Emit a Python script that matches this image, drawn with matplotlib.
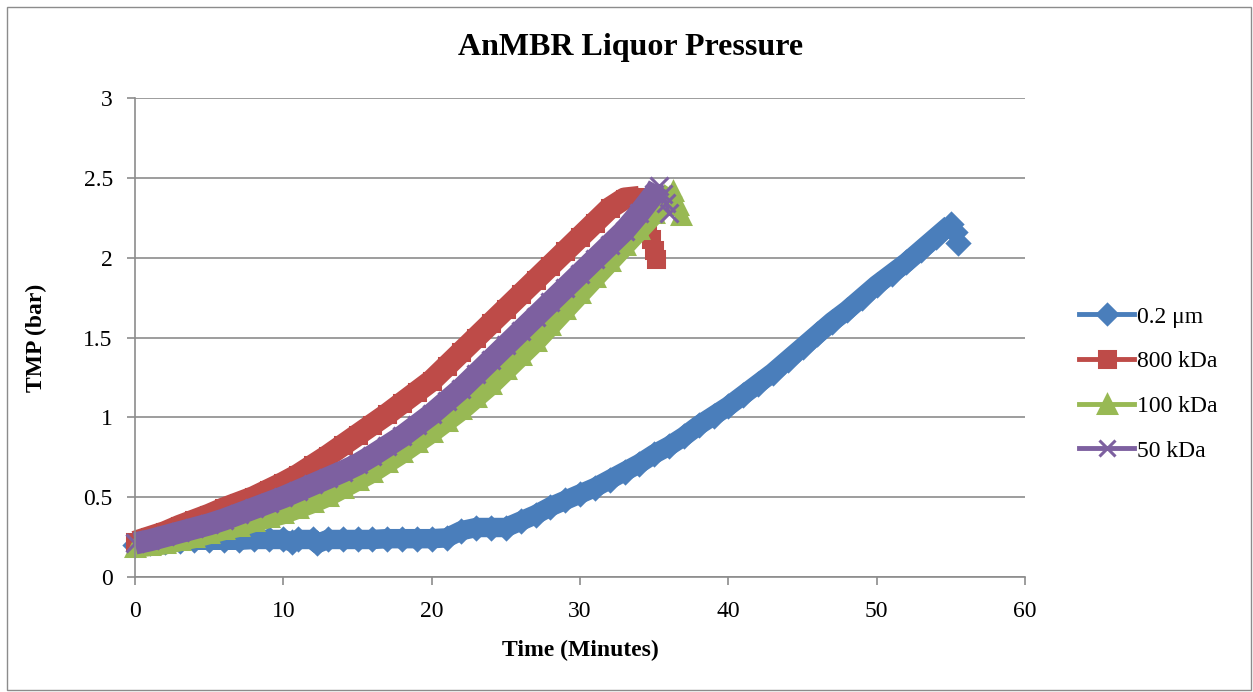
import numpy as np
import matplotlib
matplotlib.use("Agg")
import matplotlib.pyplot as plt
from matplotlib.lines import Line2D
from matplotlib.patches import Rectangle

# data (time in minutes, TMP in bar)
t_02um = [0, 1, 2, 3, 4, 5, 6, 7, 8, 9, 10, 10.6, 11, 12, 12.3, 13, 14, 15, 16, 17, 18, 19, 20, 21,
          22, 23, 24, 25, 26, 27, 28, 29, 30, 31, 32, 33, 34, 35, 36, 37, 38, 39, 40, 41, 42, 43,
          44, 45, 46, 47, 48, 49, 50, 51, 52, 53, 54, 55, 55.3, 55.5]
p_02um = [0.20, 0.21, 0.22, 0.225, 0.23, 0.23, 0.23, 0.23, 0.235, 0.235, 0.235, 0.22, 0.235, 0.235, 0.21,
          0.235, 0.235, 0.235, 0.235, 0.24, 0.24, 0.24, 0.24, 0.245, 0.29, 0.31, 0.31, 0.31, 0.35, 0.39,
          0.44, 0.48, 0.52, 0.56, 0.61, 0.66, 0.71, 0.77, 0.82, 0.88, 0.95, 1.01, 1.07, 1.14, 1.21, 1.28,
          1.36, 1.44, 1.52, 1.60, 1.67, 1.75, 1.83, 1.90, 1.97, 2.05, 2.13, 2.21, 2.16, 2.09]

t_800 = [0, 1, 2, 3, 4, 5, 6, 7, 8, 9, 10, 11, 12, 13, 14, 15, 16, 17, 18, 19, 20, 21, 22, 23, 24,
         25, 26, 27, 28, 29, 30, 31, 32, 33, 34, 34.5, 34.8, 35.0, 35.1]
p_800 = [0.22, 0.25, 0.28, 0.32, 0.355, 0.39, 0.43, 0.465, 0.50, 0.545, 0.59, 0.64, 0.70, 0.76, 0.825,
         0.89, 0.955, 1.02, 1.09, 1.16, 1.23, 1.32, 1.41, 1.50, 1.59, 1.68, 1.77, 1.86, 1.95, 2.04,
         2.13, 2.22, 2.31, 2.37, 2.38, 2.22, 2.12, 2.05, 1.99]

t_100 = [0, 1, 2, 3, 4, 5, 6, 7, 8, 9, 10, 11, 12, 13, 14, 15, 16, 17, 18, 19, 20, 21, 22, 23, 24,
         25, 26, 27, 28, 29, 30, 31, 32, 33, 34, 35, 36, 36.3, 36.6, 36.8]
p_100 = [0.19, 0.20, 0.21, 0.23, 0.25, 0.275, 0.30, 0.32, 0.35, 0.375, 0.40, 0.435, 0.47, 0.51, 0.56,
         0.61, 0.66, 0.72, 0.78, 0.845, 0.91, 0.98, 1.05, 1.13, 1.21, 1.30, 1.39, 1.48, 1.58, 1.68,
         1.78, 1.88, 1.98, 2.08, 2.18, 2.28, 2.38, 2.42, 2.33, 2.27]

t_50 = [0, 1, 2, 3, 4, 5, 6, 7, 8, 9, 10, 11, 12, 13, 14, 15, 16, 17, 18, 19, 20, 21, 22, 23, 24,
        25, 26, 27, 28, 29, 30, 31, 32, 33, 34, 35, 35.3, 35.6, 35.8, 36.0]
p_50 = [0.21, 0.23, 0.255, 0.28, 0.305, 0.33, 0.36, 0.395, 0.43, 0.465, 0.50, 0.54, 0.58, 0.62, 0.66,
        0.705, 0.76, 0.82, 0.88, 0.95, 1.02, 1.10, 1.18, 1.27, 1.36, 1.45, 1.54, 1.63, 1.72, 1.81,
        1.90, 1.99, 2.08, 2.17, 2.28, 2.40, 2.45, 2.40, 2.34, 2.28]

labels = ["0.2 \u03bcm", "800 kDa", "100 kDa", "50 kDa"]
colors = ["#4A7EBB", "#BE4B48", "#98B954", "#7D60A0"]
markers = ["D", "s", "^", "x"]

plt.rcParams["font.family"] = ["Liberation Serif", "DejaVu Serif"]

fig = plt.figure(figsize=(12.53, 6.92), dpi=100)
ax = fig.add_axes([135 / 1253, 1 - 577 / 692, 890 / 1253, 479 / 692])

series = [(t_02um, p_02um), (t_800, p_800), (t_100, p_100), (t_50, p_50)]
sizes = [11, 12, 13, 12.5]
widths = [14, 16, 16, 16]
for (t, p), c, m, ms, lw in zip(series, colors, markers, sizes, widths):
    # dense Excel markers merge into a band up to the peak; the tail keeps separate markers
    k = int(np.argmax(p)) + 1
    ax.plot(t[:k], p[:k], color=c, lw=lw, solid_joinstyle="round", solid_capstyle="butt",
            clip_on=False)
    ax.plot(t, p, color=c, lw=2.5, marker=m, ms=ms, mec=c, mew=2.2, clip_on=False)

ax.set_xlim(0, 60)
ax.set_ylim(0, 3)
ax.set_xticks(np.arange(0, 61, 10))
ax.set_yticks(np.arange(0, 3.01, 0.5))
ax.set_yticklabels(["0", "0.5", "1", "1.5", "2", "2.5", "3"])
ax.grid(axis="y", color="#8C8C8C", lw=1.2)
ax.set_axisbelow(True)
for s in ["top", "right"]:
    ax.spines[s].set_visible(False)
for s in ["left", "bottom"]:
    ax.spines[s].set_color("#8C8C8C")
    ax.spines[s].set_linewidth(1.2)
ax.tick_params(axis="both", colors="#8C8C8C", length=6, width=1.2, labelsize=17,
               labelcolor="black")
ax.tick_params(axis="y", pad=10)
ax.tick_params(axis="x", pad=11)

ax.set_xlabel("Time (Minutes)", fontsize=17, fontweight="bold", labelpad=13)
ax.set_ylabel("TMP (bar)", fontsize=17, fontweight="bold", labelpad=26)
fig.text(0.503, 1 - 47 / 692, "AnMBR Liquor Pressure", ha="center", va="center",
         fontsize=23, fontweight="bold")

handles = [Line2D([], [], color=c, lw=3.5, marker=m, ms=ms * 0.95, mec=c, mew=2.2)
           for c, m, ms in zip(colors, markers, sizes)]
fig.legend(handles, labels, loc="center left", bbox_to_anchor=(1079 / 1253, 1 - 384 / 692),
           frameon=False, fontsize=17, handlelength=2.35, handletextpad=0.1,
           labelspacing=0.98, borderpad=0, borderaxespad=0)

fig.patches.append(Rectangle((7 / 1253, 2 / 692), 1244 / 1253, 683 / 692,
                             transform=fig.transFigure, fill=False, ec="#8C8C8C", lw=1))

fig.savefig("out.png", dpi=100)
